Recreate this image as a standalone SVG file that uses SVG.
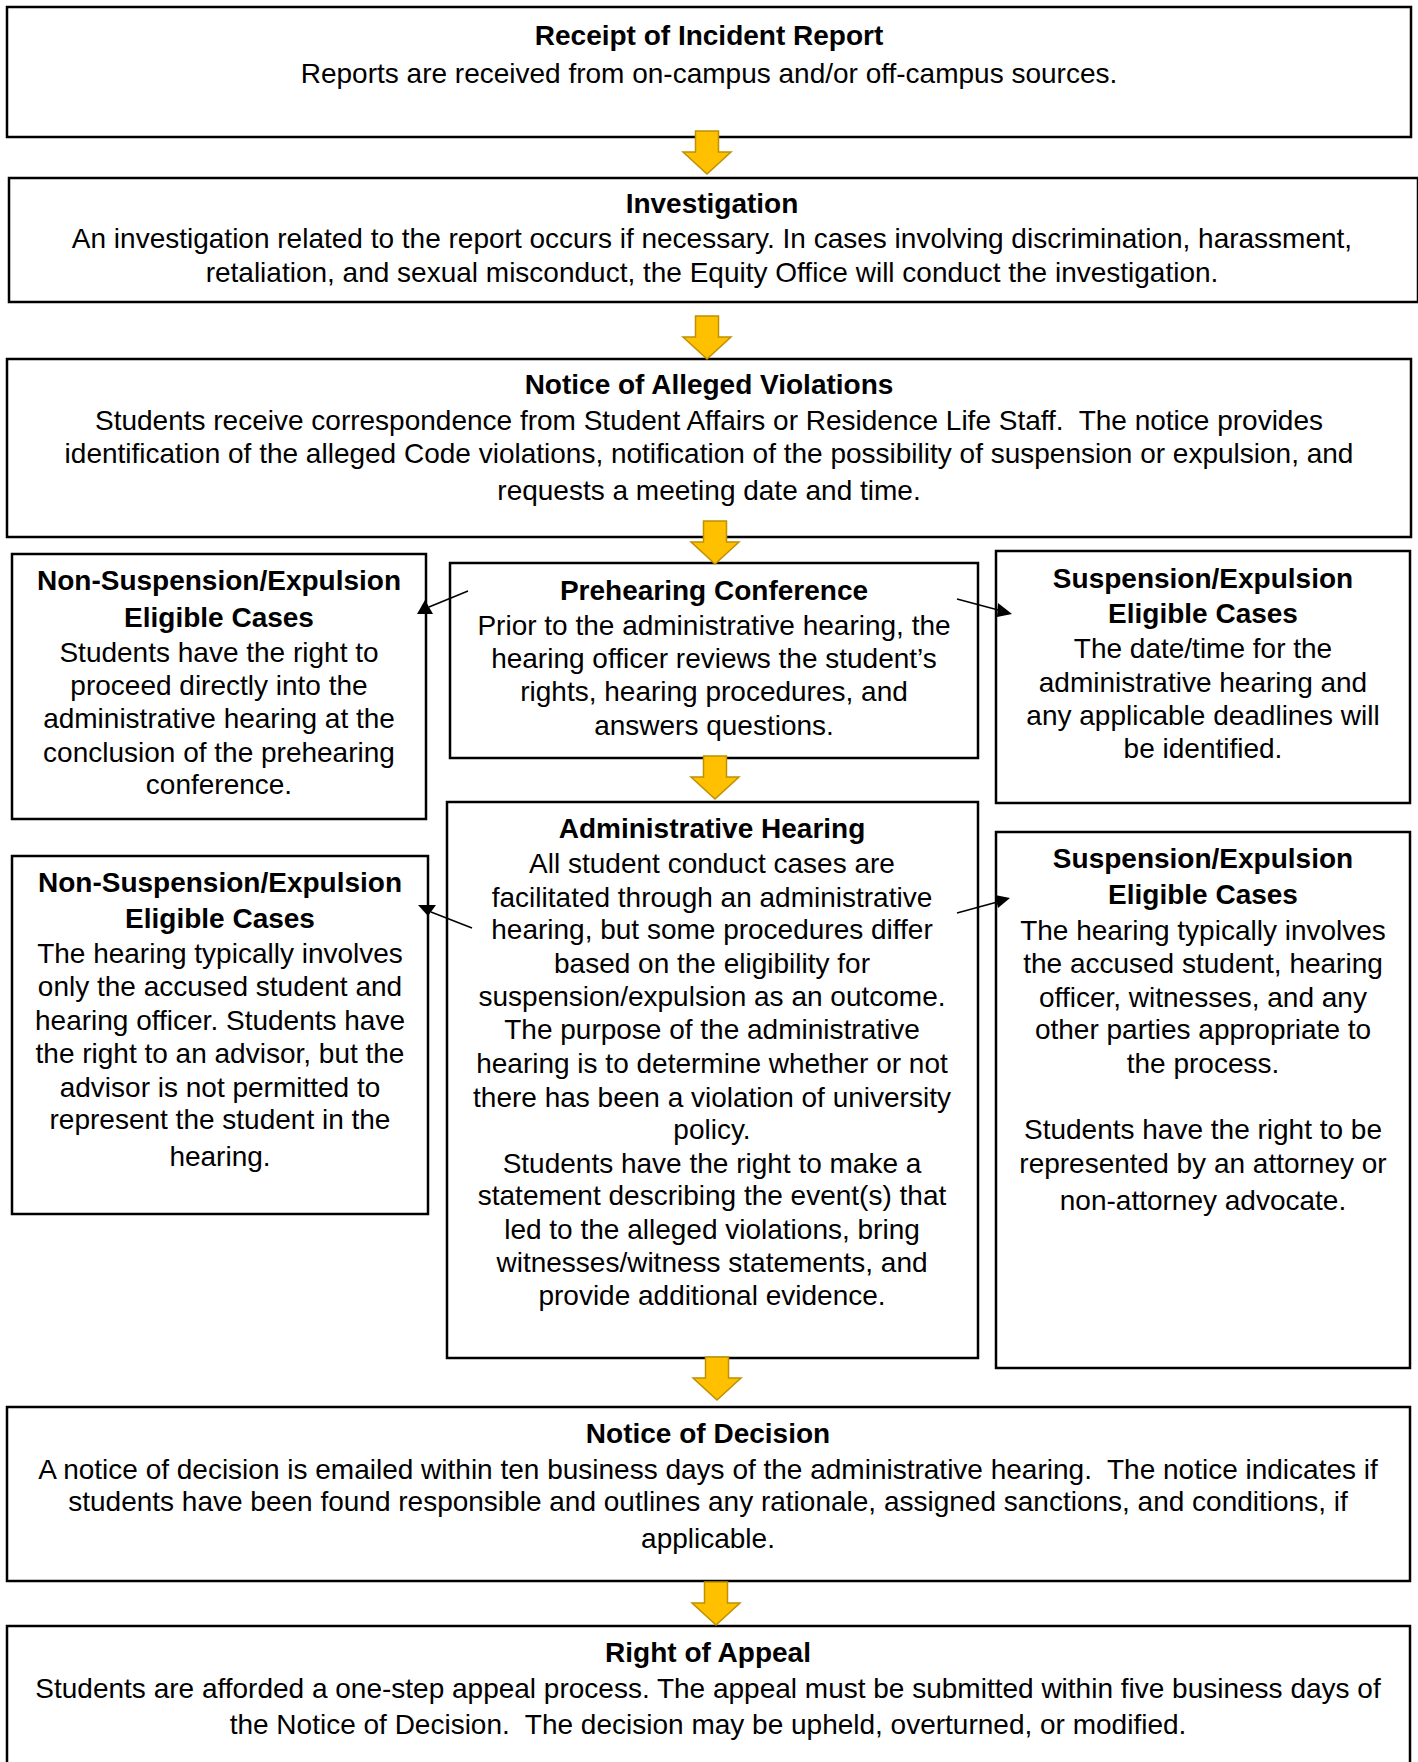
<svg xmlns="http://www.w3.org/2000/svg" width="1418" height="1762" viewBox="0 0 1418 1762">
<style>
.box{fill:#fff;stroke:#000;stroke-width:2.5}
.t{font-family:"Liberation Sans",Arial,sans-serif;font-size:28px;font-weight:bold;text-anchor:middle;fill:#000}
.b{font-family:"Liberation Sans",Arial,sans-serif;font-size:28px;text-anchor:middle;fill:#000;white-space:pre}
.ya{fill:#FFC000;stroke:#BF9000;stroke-width:1.5}
.cl{stroke:#000;stroke-width:1.5;fill:none}
.ah{fill:#000}
</style>
<defs>
<path id="yarrow" d="M-11.5,0 H11.5 V21 H24 L0,43 L-24,21 H-11.5 Z"/>
</defs>
<rect width="1418" height="1762" fill="#fff"/>

<g id="receipt">
<rect class="box" x="7" y="7" width="1404" height="130"/>
<text class="t" x="709" y="45">Receipt of Incident Report</text>
<text class="b" x="709" y="83">Reports are received from on-campus and/or off-campus sources.</text>
</g>

<g id="investigation">
<rect class="box" x="9" y="178" width="1409" height="124"/>
<text class="t" x="712" y="213">Investigation</text>
<text class="b" x="712" y="248">An investigation related to the report occurs if necessary. In cases involving discrimination, harassment,</text>
<text class="b" x="712" y="282">retaliation, and sexual misconduct, the Equity Office will conduct the investigation.</text>
</g>

<g id="notice-violations">
<rect class="box" x="7" y="359" width="1404" height="178"/>
<text class="t" x="709" y="394">Notice of Alleged Violations</text>
<text class="b" x="709" y="430">Students receive correspondence from Student Affairs or Residence Life Staff.  The notice provides</text>
<text class="b" x="709" y="463">identification of the alleged Code violations, notification of the possibility of suspension or expulsion, and</text>
<text class="b" x="709" y="500">requests a meeting date and time.</text>
</g>

<g id="non-susp-1">
<rect class="box" x="12" y="554" width="414" height="265"/>
<text class="t" x="219" y="590">Non-Suspension/Expulsion</text>
<text class="t" x="219" y="627">Eligible Cases</text>
<text class="b" x="219" y="662">Students have the right to</text>
<text class="b" x="219" y="695">proceed directly into the</text>
<text class="b" x="219" y="728">administrative hearing at the</text>
<text class="b" x="219" y="762">conclusion of the prehearing</text>
<text class="b" x="219" y="794">conference.</text>
</g>

<g id="prehearing">
<rect class="box" x="450" y="563" width="528" height="195"/>
<text class="t" x="714" y="600">Prehearing Conference</text>
<text class="b" x="714" y="635">Prior to the administrative hearing, the</text>
<text class="b" x="714" y="668">hearing officer reviews the student’s</text>
<text class="b" x="714" y="701">rights, hearing procedures, and</text>
<text class="b" x="714" y="735">answers questions.</text>
</g>

<g id="susp-1">
<rect class="box" x="996" y="551" width="414" height="252"/>
<text class="t" x="1203" y="588">Suspension/Expulsion</text>
<text class="t" x="1203" y="623">Eligible Cases</text>
<text class="b" x="1203" y="658">The date/time for the</text>
<text class="b" x="1203" y="692">administrative hearing and</text>
<text class="b" x="1203" y="725">any applicable deadlines will</text>
<text class="b" x="1203" y="758">be identified.</text>
</g>

<g id="admin-hearing">
<rect class="box" x="447" y="802" width="531" height="556"/>
<text class="t" x="712" y="838">Administrative Hearing</text>
<text class="b" x="712" y="873">All student conduct cases are</text>
<text class="b" x="712" y="907">facilitated through an administrative</text>
<text class="b" x="712" y="939">hearing, but some procedures differ</text>
<text class="b" x="712" y="973">based on the eligibility for</text>
<text class="b" x="712" y="1006">suspension/expulsion as an outcome.</text>
<text class="b" x="712" y="1039">The purpose of the administrative</text>
<text class="b" x="712" y="1073">hearing is to determine whether or not</text>
<text class="b" x="712" y="1107">there has been a violation of university</text>
<text class="b" x="712" y="1139">policy.</text>
<text class="b" x="712" y="1173">Students have the right to make a</text>
<text class="b" x="712" y="1205">statement describing the event(s) that</text>
<text class="b" x="712" y="1239">led to the alleged violations, bring</text>
<text class="b" x="712" y="1272">witnesses/witness statements, and</text>
<text class="b" x="712" y="1305">provide additional evidence.</text>
</g>

<g id="non-susp-2">
<rect class="box" x="12" y="856" width="416" height="358"/>
<text class="t" x="220" y="892">Non-Suspension/Expulsion</text>
<text class="t" x="220" y="928">Eligible Cases</text>
<text class="b" x="220" y="963">The hearing typically involves</text>
<text class="b" x="220" y="996">only the accused student and</text>
<text class="b" x="220" y="1030">hearing officer. Students have</text>
<text class="b" x="220" y="1063">the right to an advisor, but the</text>
<text class="b" x="220" y="1097">advisor is not permitted to</text>
<text class="b" x="220" y="1129">represent the student in the</text>
<text class="b" x="220" y="1166">hearing.</text>
</g>

<g id="susp-2">
<rect class="box" x="996" y="832" width="414" height="536"/>
<text class="t" x="1203" y="868">Suspension/Expulsion</text>
<text class="t" x="1203" y="904">Eligible Cases</text>
<text class="b" x="1203" y="940">The hearing typically involves</text>
<text class="b" x="1203" y="973">the accused student, hearing</text>
<text class="b" x="1203" y="1007">officer, witnesses, and any</text>
<text class="b" x="1203" y="1039">other parties appropriate to</text>
<text class="b" x="1203" y="1073">the process.</text>
<text class="b" x="1203" y="1139">Students have the right to be</text>
<text class="b" x="1203" y="1173">represented by an attorney or</text>
<text class="b" x="1203" y="1210">non-attorney advocate.</text>
</g>

<g id="notice-decision">
<rect class="box" x="7" y="1407" width="1403" height="174"/>
<text class="t" x="708" y="1443">Notice of Decision</text>
<text class="b" x="708" y="1479">A notice of decision is emailed within ten business days of the administrative hearing.  The notice indicates if</text>
<text class="b" x="708" y="1511">students have been found responsible and outlines any rationale, assigned sanctions, and conditions, if</text>
<text class="b" x="708" y="1548">applicable.</text>
</g>

<g id="appeal">
<rect class="box" x="7" y="1626" width="1403" height="160"/>
<text class="t" x="708" y="1662">Right of Appeal</text>
<text class="b" x="708" y="1698">Students are afforded a one-step appeal process. The appeal must be submitted within five business days of</text>
<text class="b" x="708" y="1734">the Notice of Decision.  The decision may be upheld, overturned, or modified.</text>
</g>

<g id="flow-arrows">
<use href="#yarrow" class="ya" x="707" y="131"/>
<use href="#yarrow" class="ya" x="707" y="316"/>
<use href="#yarrow" class="ya" x="715" y="521"/>
<use href="#yarrow" class="ya" x="715" y="756"/>
<use href="#yarrow" class="ya" x="717" y="1357"/>
<use href="#yarrow" class="ya" x="716" y="1582"/>
</g>

<g id="connectors">
<line class="cl" x1="468" y1="591" x2="429" y2="607"/>
<polygon class="ah" points="425,600 417,614 433,614"/>
<line class="cl" x1="957" y1="599" x2="1002" y2="611"/>
<polygon class="ah" points="1012,614 998,603 997,617"/>
<line class="cl" x1="472" y1="928" x2="431" y2="912"/>
<polygon class="ah" points="428,916 418,905 436,905"/>
<line class="cl" x1="957" y1="913" x2="1001" y2="901"/>
<polygon class="ah" points="1010,898 995,895 998,908"/>
</g>
</svg>
